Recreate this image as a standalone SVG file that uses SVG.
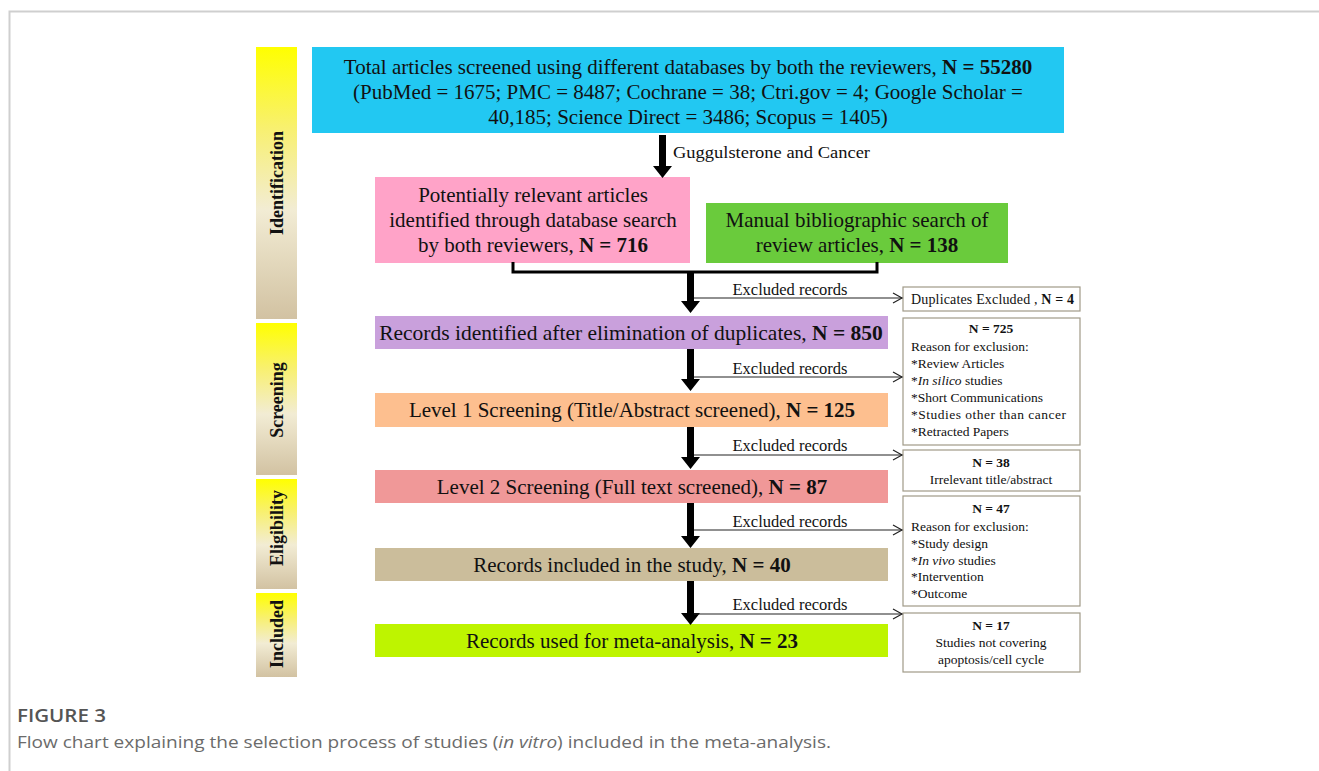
<svg xmlns="http://www.w3.org/2000/svg" width="1319" height="771" viewBox="0 0 1319 771">
<defs>
<linearGradient id="phase" x1="0" y1="0" x2="0" y2="1">
<stop offset="0" stop-color="#ffff00"/>
<stop offset="0.3" stop-color="#f8f070"/>
<stop offset="0.6" stop-color="#f2ecd4"/>
<stop offset="1" stop-color="#d2c2a2"/>
</linearGradient>
<marker id="open" markerWidth="12" markerHeight="12" refX="10" refY="6" orient="auto" markerUnits="userSpaceOnUse">
<path d="M1,1 L10,6 L1,11" fill="none" stroke="#222" stroke-width="1.2"/>
</marker>
</defs>
<style>
.t{font-family:"Liberation Serif","Times New Roman",serif;fill:#111;}
.m{font-size:21px;}
.s{font-size:16.5px;}
.x{font-size:13.5px;}
.b{font-weight:bold;}
.ph{font-family:"Liberation Serif",serif;font-weight:bold;font-size:18px;fill:#111;}
.box{stroke:#a09a88;stroke-width:1.2;fill:#fff;}
.ex{stroke:#222;stroke-width:1.2;fill:none;}
.cap{font-family:"Open Sans","Noto Sans",sans-serif;}
</style>
<rect width="1319" height="771" fill="#fff"/>
<path d="M9.5,771 L9.5,11.5 L1319,11.5" fill="none" stroke="#cfcfcf" stroke-width="2"/>

<g id="phases">
<g id="ph-identification"><rect x="256" y="47" width="41" height="272" fill="url(#phase)"/><text class="ph" transform="translate(283,183) rotate(-90)" text-anchor="middle">Identification</text></g>
<g id="ph-screening"><rect x="256" y="323" width="41" height="152" fill="url(#phase)"/><text class="ph" transform="translate(283,400) rotate(-90)" text-anchor="middle">Screening</text></g>
<g id="ph-eligibility"><rect x="256" y="479" width="41" height="110" fill="url(#phase)"/><text class="ph" transform="translate(283,528) rotate(-90)" text-anchor="middle">Eligibility</text></g>
<g id="ph-included"><rect x="256" y="593" width="41" height="84" fill="url(#phase)"/><text class="ph" transform="translate(283,634) rotate(-90)" text-anchor="middle">Included</text></g>
</g>

<g id="total">
<rect x="312" y="47" width="752" height="86" fill="#22c8f2"/>
<text class="t m" x="688" y="74" text-anchor="middle">Total articles screened using different databases by both the reviewers, <tspan class="b">N = 55280</tspan></text>
<text class="t m" x="688" y="99" text-anchor="middle">(PubMed = 1675; PMC = 8487; Cochrane = 38; Ctri.gov = 4; Google Scholar =</text>
<text class="t m" x="688" y="124" text-anchor="middle">40,185; Science Direct = 3486; Scopus = 1405)</text>
</g>

<g id="database">
<rect x="375" y="177" width="315" height="86" fill="#ffa3c8"/>
<text class="t m" x="533" y="202" text-anchor="middle">Potentially relevant articles</text>
<text class="t m" x="533" y="227" text-anchor="middle">identified through database search</text>
<text class="t m" x="533" y="252" text-anchor="middle">by both reviewers, <tspan class="b">N = 716</tspan></text>
</g>

<g id="manual">
<rect x="706" y="203" width="302" height="60" fill="#6acb3c"/>
<text class="t m" x="857" y="227" text-anchor="middle">Manual bibliographic  search of</text>
<text class="t m" x="857" y="252" text-anchor="middle">review articles, <tspan class="b">N = 138</tspan></text>
</g>

<g id="dedup">
<rect x="375" y="316" width="513" height="33" fill="#c9a0dc"/>
<text class="t" style="font-size:21.5px" x="631" y="340" text-anchor="middle">Records identified after elimination of duplicates, <tspan class="b">N = 850</tspan></text>
</g>

<g id="level1">
<rect x="375" y="393" width="513" height="34" fill="#fdbf8f"/>
<text class="t m" x="632" y="417" text-anchor="middle">Level 1 Screening (Title/Abstract screened), <tspan class="b">N = 125</tspan></text>
</g>

<g id="level2">
<rect x="375" y="470" width="513" height="33" fill="#f09898"/>
<text class="t m" x="632" y="494" text-anchor="middle">Level 2 Screening (Full text screened), <tspan class="b">N = 87</tspan></text>
</g>

<g id="included">
<rect x="375" y="548" width="513" height="33" fill="#cbbd9b"/>
<text class="t m" x="632" y="572" text-anchor="middle">Records included in the study, <tspan class="b">N = 40</tspan></text>
</g>

<g id="meta">
<rect x="375" y="624" width="513" height="33" fill="#bef400"/>
<text class="t m" x="632" y="648" text-anchor="middle">Records used for meta-analysis, <tspan class="b">N = 23</tspan></text>
</g>

<g id="ex-dup">
<rect class="box" x="903" y="287" width="177" height="24"/>
<text class="t" style="font-size:14px" x="911" y="304" textLength="163">Duplicates  Excluded  , <tspan class="b">N = 4</tspan></text>
</g>

<g id="ex-725">
<rect class="box" x="903" y="318" width="177" height="127"/>
<text class="t x b" x="991" y="333" text-anchor="middle">N = 725</text>
<text class="t x" x="911" y="351">Reason for exclusion:</text>
<text class="t x" x="911" y="368">*Review  Articles</text>
<text class="t x" x="911" y="385">*<tspan font-style="italic">In silico</tspan> studies</text>
<text class="t x" x="911" y="402" textLength="132">*Short  Communications</text>
<text class="t x" x="911" y="419" textLength="155">*Studies  other  than  cancer</text>
<text class="t x" x="911" y="436">*Retracted  Papers</text>
</g>

<g id="ex-38">
<rect class="box" x="903" y="450" width="177" height="41"/>
<text class="t x b" x="991" y="467" text-anchor="middle">N = 38</text>
<text class="t x" x="991" y="484" text-anchor="middle">Irrelevant  title/abstract</text>
</g>

<g id="ex-47">
<rect class="box" x="903" y="496" width="177" height="110"/>
<text class="t x b" x="991" y="513" text-anchor="middle">N = 47</text>
<text class="t x" x="911" y="531">Reason for exclusion:</text>
<text class="t x" x="911" y="548">*Study  design</text>
<text class="t x" x="911" y="565">*<tspan font-style="italic">In vivo</tspan> studies</text>
<text class="t x" x="911" y="581">*Intervention</text>
<text class="t x" x="911" y="598">*Outcome</text>
</g>

<g id="ex-17">
<rect class="box" x="903" y="613" width="177" height="59"/>
<text class="t x b" x="991" y="630" text-anchor="middle">N = 17</text>
<text class="t x" x="991" y="647" text-anchor="middle">Studies  not  covering</text>
<text class="t x" x="991" y="664" text-anchor="middle">apoptosis/cell  cycle</text>
</g>

<g id="connectors">
<path d="M659,135 h7 v31 h6 l-9.5,12 l-9.5,-12 h6 z" fill="#000"/>
<text class="t s" x="673" y="158" textLength="197" lengthAdjust="spacingAndGlyphs">Guggulsterone  and  Cancer</text>
<path d="M513,262 V272 H877 V262" fill="none" stroke="#000" stroke-width="3"/>
<path d="M687,272 h7 v29 h6 l-9.5,12 l-9.5,-12 h6 z" fill="#000"/>
<path class="ex" d="M694,298 H902" marker-end="url(#open)"/>
<text class="t s" x="790" y="295" text-anchor="middle">Excluded records</text>
<path d="M687,349 h7 v30 h6 l-9.5,12 l-9.5,-12 h6 z" fill="#000"/>
<path class="ex" d="M694,377 H902" marker-end="url(#open)"/>
<text class="t s" x="790" y="374" text-anchor="middle">Excluded records</text>
<path d="M687,427 h7 v30 h6 l-9.5,12 l-9.5,-12 h6 z" fill="#000"/>
<path class="ex" d="M694,455 H902" marker-end="url(#open)"/>
<text class="t s" x="790" y="451" text-anchor="middle">Excluded records</text>
<path d="M687,503 h7 v33 h6 l-9.5,12 l-9.5,-12 h6 z" fill="#000"/>
<path class="ex" d="M694,530 H902" marker-end="url(#open)"/>
<text class="t s" x="790" y="527" text-anchor="middle">Excluded records</text>
<path d="M687,581 h7 v32 h6 l-9.5,12 l-9.5,-12 h6 z" fill="#000"/>
<path class="ex" d="M694,614 H902" marker-end="url(#open)"/>
<text class="t s" x="790" y="610" text-anchor="middle">Excluded records</text>
</g>

<g id="caption">
<text class="cap" x="17" y="722" style="font-size:18px;fill:#555;font-weight:600" textLength="89" lengthAdjust="spacingAndGlyphs">FIGURE 3</text>
<text class="cap" x="17" y="748" style="font-size:17px;fill:#6b6b6b" textLength="814" lengthAdjust="spacingAndGlyphs">Flow chart explaining the selection process of studies (<tspan font-style="italic">in vitro</tspan>) included in the meta-analysis.</text>
</g>
</svg>
